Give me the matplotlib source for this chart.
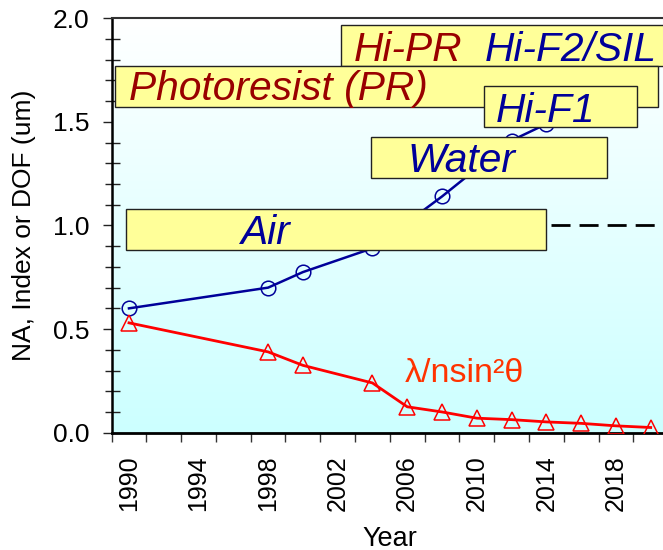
import numpy as np
import matplotlib
matplotlib.use("Agg")
import matplotlib.pyplot as plt
from matplotlib.patches import Rectangle
from matplotlib.colors import LinearSegmentedColormap
from matplotlib.ticker import MultipleLocator

plt.rcParams["font.family"] = ["Liberation Sans", "DejaVu Sans"]
plt.rcParams["lines.scale_dashes"] = False

# Numerical aperture / immersion index by year
na_years = [1990, 1998, 2000, 2004, 2008, 2012, 2014]
na_values = [0.60, 0.70, 0.775, 0.89, 1.14, 1.41, 1.49]

# Depth of focus (lambda / n sin^2 theta) by year
dof_years = [1990, 1998, 2000, 2004, 2006, 2008, 2010, 2012, 2014, 2016, 2018, 2020]
dof_values = [0.53, 0.39, 0.325, 0.24, 0.125, 0.10, 0.07, 0.063, 0.052, 0.045, 0.033, 0.025]

# Refractive index of air, drawn as a reference line
air_index = 1.0
air_line_years = [2014.27, 2021.0]

year_ticks = [1990, 1994, 1998, 2002, 2006, 2010, 2014, 2018]
year_labels = [str(y) for y in year_ticks]
value_ticks = [0.0, 0.5, 1.0, 1.5, 2.0]
value_labels = ["0.0", "0.5", "1.0", "1.5", "2.0"]

# Medium / material callouts: box extents and the coloured text inside
NAVY = "#000099"
DARKRED = "#990000"
callouts = [
    # box (x0, x1, y0, y1), list of (x, y, text, colour)
    ((2002.19, 2022.5, 1.771, 1.968),
     [(2002.9, 1.794, "Hi-PR", DARKRED), (2010.45, 1.794, "Hi-F2/SIL", NAVY)]),
    ((1989.22, 2020.42, 1.573, 1.771),
     [(1989.98, 1.606, "Photoresist (PR)", DARKRED)]),
    ((2010.44, 2019.24, 1.474, 1.673),
     [(2011.1, 1.501, "Hi-F1", NAVY)]),
    ((2003.92, 2017.49, 1.229, 1.425),
     [(2006.0, 1.260, "Water", NAVY)]),
    ((1989.83, 2013.98, 0.882, 1.080),
     [(1996.4, 0.911, "Air", NAVY)]),
]

fig = plt.figure(figsize=(6.63, 5.5), dpi=100)
ax = fig.add_axes([0.1683, 0.2133, 0.8394, 0.7535])

xlim = (1989, 2021)
ylim = (0.0, 2.0)

# Vertical background wash: pale cyan at the bottom fading to white at the top
wash = LinearSegmentedColormap.from_list("wash", ["#ccffff", "#ffffff"])
ax.imshow(np.linspace(0, 1, 256).reshape(-1, 1), cmap=wash, origin="lower",
          extent=[xlim[0], xlim[1], ylim[0], ylim[1]], aspect="auto", zorder=0)

# Reference line for air
ax.plot(air_line_years, [air_index, air_index], color="black", lw=2.0,
        dashes=(13.7, 6.5), zorder=2)

# NA / index curve
ax.plot(na_years, na_values, color=NAVY, lw=1.8, marker="o", markersize=10.5,
        markerfacecolor="none", markeredgecolor=NAVY, markeredgewidth=1.1, zorder=3)

# DOF curve
ax.plot(dof_years, dof_values, color="#ff0000", lw=2.0, marker="^", markersize=11,
        markerfacecolor="none", markeredgecolor="#ff0000", markeredgewidth=1.1, zorder=3)

ax.text(2005.87, 0.246, "\u03bb/nsin\u00b2\u03b8", color="#ff3300", fontsize=24.5,
        ha="left", va="baseline", zorder=4)

z = 5
for (x0, x1, y0, y1), pieces in callouts:
    ax.add_patch(Rectangle((x0, y0), x1 - x0, y1 - y0, facecolor="#ffff99",
                           edgecolor="#222222", lw=1.0, zorder=z))
    for tx, ty, txt, col in pieces:
        ax.text(tx, ty, txt, color=col, fontsize=29.3, fontstyle="italic",
                ha="left", va="baseline", zorder=z + 1)
    z += 2

ax.set_xlim(*xlim)
ax.set_ylim(*ylim)

# X axis: labels every four years, tick marks on odd years
ax.set_xticks(year_ticks)
ax.set_xticklabels(year_labels, rotation=90)
ax.set_xticks(list(range(1989, 2021, 2)), minor=True)
ax.tick_params(axis="x", which="major", length=0, pad=16, labelsize=18)
ax.tick_params(axis="x", which="minor", length=6.5, width=1.0, direction="out",
               color="#333333")

# Y axis
ax.set_yticks(value_ticks)
ax.set_yticklabels(value_labels)
ax.yaxis.set_minor_locator(MultipleLocator(0.1))
ax.tick_params(axis="y", which="major", length=6.5, width=1.0, direction="out",
               pad=9.5, labelsize=19, color="#222222")
ax.tick_params(axis="y", which="minor", length=10.8, width=1.0, direction="inout",
               color="#222222")

ax.spines["right"].set_visible(False)
ax.spines["left"].set_linewidth(1.8)
ax.spines["bottom"].set_linewidth(2.0)
ax.spines["top"].set_linewidth(1.5)
ax.spines["top"].set_color("#333333")

ax.set_xlabel("Year", fontsize=19.5)
ax.set_ylabel("NA, Index or DOF (um)", fontsize=19)
ax.xaxis.set_label_coords(0.5, -0.224)
ax.yaxis.set_label_coords(-0.136, 0.5)

fig.savefig("out.png", dpi=100)
